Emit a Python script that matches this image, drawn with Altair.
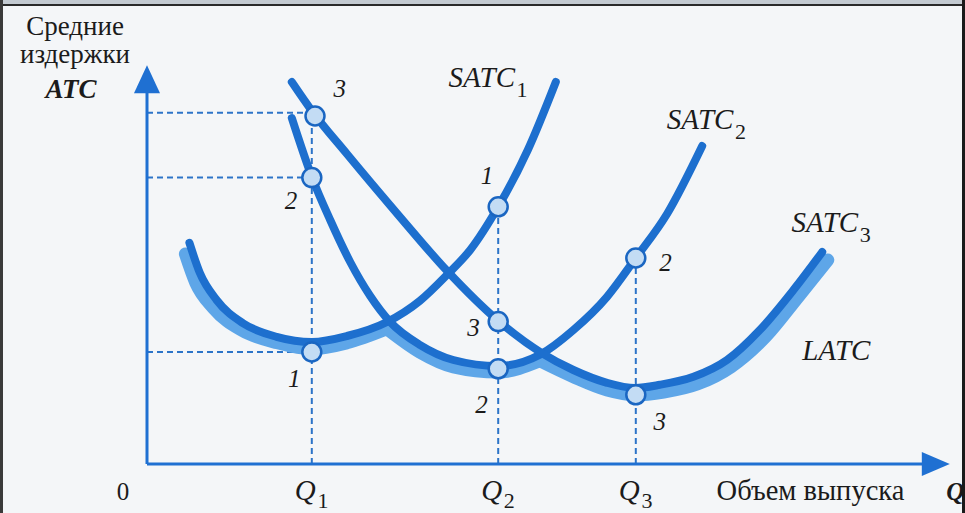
import altair as alt
import pandas as pd

# ---- data: output Q (x) and average cost ATC (y), arbitrary units ----
Q1, Q2, Q3 = 2.06, 4.39, 6.11

satc1_q = [0.53, 0.66, 0.87, 1.20, 1.62, 2.06, 2.50, 3.00, 3.41, 3.75, 4.04, 4.39, 4.76, 5.11]
satc1_c = [5.53, 4.78, 4.10, 3.52, 3.18, 3.05, 3.20, 3.55, 4.08, 4.73, 5.35, 6.43, 7.85, 9.55]

satc2_q = [1.81, 2.06, 2.29, 2.54, 2.79, 3.04, 3.41, 3.83, 4.39, 4.91, 5.33, 5.75, 6.11, 6.50, 6.94]
satc2_c = [8.65, 7.18, 6.10, 5.05, 4.20, 3.55, 2.98, 2.60, 2.45, 2.73, 3.35, 4.18, 5.15, 6.25, 7.95]

satc3_q = [1.81, 2.06, 2.50, 3.14, 3.75, 4.39, 4.93, 5.33, 5.75, 6.10, 6.41, 6.83, 7.25, 7.66, 8.08, 8.44]
satc3_c = [9.55, 8.83, 7.75, 6.23, 4.83, 3.58, 2.78, 2.35, 2.03, 1.90, 1.98, 2.18, 2.60, 3.35, 4.35, 5.30]

# long-run envelope, one piece under each short-run curve
latc_seg = [1] * 8 + [2] * 5 + [3] * 11
latc_q = [0.48, 0.61, 0.83, 1.18, 1.63, 2.06, 2.50, 3.00,
          3.00, 3.41, 3.83, 4.39, 4.91,
          4.91, 5.33, 5.75, 6.10, 6.46, 6.88, 7.30, 7.73, 8.14, 8.51, 8.51]
latc_c = [5.25, 4.53, 3.90, 3.35, 3.03, 2.88, 3.03, 3.38,
          3.38, 2.80, 2.43, 2.30, 2.58,
          2.58, 2.18, 1.85, 1.73, 1.80, 2.00, 2.43, 3.18, 4.18, 5.10, 5.10]

# marked points
pt_q = [2.10, Q1, Q1, Q2, Q2, Q2, Q3, Q3]
pt_c = [8.70, 7.16, 2.80, 6.43, 3.56, 2.38, 5.15, 1.73]
pt_label = ["3", "2", "1", "1", "3", "2", "2", "3"]
pt_label_q = [2.41, 1.80, 1.84, 4.25, 4.08, 4.18, 6.48, 6.41]
pt_label_c = [9.38, 6.58, 2.13, 7.20, 3.40, 1.48, 5.03, 1.05]

# dashed guides
guide_c_q1 = [8.78, 7.16, 2.80]
guide_top = [8.78, 6.43, 5.15]
guide_q = [Q1, Q2, Q3]

# curve names
curve_names = ["SATC", "SATC", "SATC", "LATC"]
curve_subs = ["1", "2", "3", ""]
curve_name_q = [4.60, 7.33, 8.89, 8.19]
curve_name_c = [9.43, 8.38, 5.80, 2.60]

DARK = "#1d6fce"
LIGHT = "#5ea6e8"
AXIS = "#1f70d2"
DASH = "#2c74c8"
PT_FILL = "#c3dcf4"
INK = "#1b1b1b"
SERIF = "Liberation Serif, Times New Roman, serif"

xs = alt.Scale(domain=[0, 10], nice=False, zero=False)
ys = alt.Scale(domain=[0, 10], nice=False, zero=False)


def enc(xf="q", yf="c"):
    return dict(x=alt.X(f"{xf}:Q", scale=xs, axis=None), y=alt.Y(f"{yf}:Q", scale=ys, axis=None))


def curve(q, c, color, width):
    df = pd.DataFrame({"q": q, "c": c})
    return alt.Chart(df).mark_line(
        color=color, strokeWidth=width, interpolate="monotone", strokeCap="round"
    ).encode(**enc())


latc = alt.Chart(pd.DataFrame({"q": latc_q, "c": latc_c, "seg": latc_seg})).mark_line(
    color=LIGHT, strokeWidth=13, interpolate="monotone", strokeCap="round"
).encode(**enc(), detail="seg:N")

# dashed guide lines
h_df = pd.DataFrame({"q": [0] * 3, "q2": [Q1] * 3, "c": guide_c_q1})
v_df = pd.DataFrame({"q": guide_q, "c": [0] * 3, "c2": guide_top})
h_rules = alt.Chart(h_df).mark_rule(color=DASH, strokeWidth=2, strokeDash=[6, 4]).encode(
    x=alt.X("q:Q", scale=xs, axis=None), x2="q2:Q", y=alt.Y("c:Q", scale=ys, axis=None))
v_rules = alt.Chart(v_df).mark_rule(color=DASH, strokeWidth=2, strokeDash=[6, 4]).encode(
    x=alt.X("q:Q", scale=xs, axis=None), y=alt.Y("c:Q", scale=ys, axis=None), y2="c2:Q")

# axes with arrow heads
axis_df = pd.DataFrame({"q": [0, 0], "c": [0, 0], "q2": [0, 9.7], "c2": [9.35, 0]})
axes = alt.Chart(axis_df).mark_rule(color=AXIS, strokeWidth=3).encode(
    x=alt.X("q:Q", scale=xs, axis=None), y=alt.Y("c:Q", scale=ys, axis=None), x2="q2:Q", y2="c2:Q")
arrow_up = alt.Chart(pd.DataFrame({"q": [0], "c": [9.62]})).mark_point(
    shape="M0,-1L-0.93,1L0.93,1Z", filled=True, color=AXIS, size=784, opacity=1).encode(**enc())
arrow_right = alt.Chart(pd.DataFrame({"q": [9.86], "c": [0]})).mark_point(
    shape="M1,0L-1,-0.85L-1,0.85Z", filled=True, color=AXIS, size=784, opacity=1).encode(**enc())

# points
pts = alt.Chart(pd.DataFrame({"q": pt_q, "c": pt_c})).mark_circle(
    fill=PT_FILL, stroke="#1a66c2", strokeWidth=2.5, size=360, opacity=1).encode(**enc())

pt_labels = alt.Chart(pd.DataFrame({"q": pt_label_q, "c": pt_label_c, "t": pt_label})).mark_text(
    font=SERIF, fontSize=25, fontStyle="italic", color=INK, align="center", baseline="middle"
).encode(**enc(), text="t:N")

# curve labels
names_df = pd.DataFrame({"q": curve_name_q, "c": curve_name_c, "t": curve_names})
names_main = alt.Chart(names_df.iloc[:3]).mark_text(
    font=SERIF, fontSize=29, fontStyle="italic", color=INK, align="right", baseline="alphabetic"
).encode(**enc(), text="t:N")
names_latc = alt.Chart(names_df.iloc[3:]).mark_text(
    font=SERIF, fontSize=29, fontStyle="italic", color=INK, align="left", baseline="alphabetic"
).encode(**enc(), text="t:N")
subs_df = pd.DataFrame({"q": [v + 0.02 for v in curve_name_q[:3]],
                        "c": [v - 0.26 for v in curve_name_c[:3]], "t": curve_subs[:3]})
names_sub = alt.Chart(subs_df).mark_text(
    font=SERIF, fontSize=22, color=INK, align="left", baseline="alphabetic"
).encode(**enc(), text="t:N")

# axis titles and ticks
ytitle = alt.Chart(pd.DataFrame({"q": [-0.9, -0.9], "c": [10.72, 10.03], "t": ["Средние", "издержки"]})).mark_text(
    font=SERIF, fontSize=27, color=INK, align="center", baseline="alphabetic"
).encode(**enc(), text="t:N")
ytitle_atc = alt.Chart(pd.DataFrame({"q": [-0.95], "c": [9.15], "t": ["ATC"]})).mark_text(
    font=SERIF, fontSize=27, fontStyle="italic", fontWeight="bold", color=INK, align="center",
    baseline="alphabetic").encode(**enc(), text="t:N")

zero = alt.Chart(pd.DataFrame({"q": [-0.3], "c": [-0.9], "t": ["0"]})).mark_text(
    font=SERIF, fontSize=25, color=INK, align="center", baseline="alphabetic").encode(**enc(), text="t:N")
q_main = alt.Chart(pd.DataFrame({"q": [v + 0.05 for v in guide_q], "c": [-0.9] * 3, "t": ["Q"] * 3})).mark_text(
    font=SERIF, fontSize=29, fontStyle="italic", color=INK, align="right", baseline="alphabetic"
).encode(**enc(), text="t:N")
q_sub = alt.Chart(pd.DataFrame({"q": [v + 0.07 for v in guide_q], "c": [-1.1] * 3, "t": ["1", "2", "3"]})).mark_text(
    font=SERIF, fontSize=22, color=INK, align="left", baseline="alphabetic"
).encode(**enc(), text="t:N")
xtitle = alt.Chart(pd.DataFrame({"q": [7.12], "c": [-0.9], "t": ["Объем выпуска"]})).mark_text(
    font=SERIF, fontSize=28.5, color=INK, align="left", baseline="alphabetic").encode(**enc(), text="t:N")
xtitle_q = alt.Chart(pd.DataFrame({"q": [9.99], "c": [-0.9], "t": ["Q"]})).mark_text(
    font=SERIF, fontSize=25, fontStyle="italic", fontWeight="bold", color=INK, align="left",
    baseline="alphabetic").encode(**enc(), text="t:N")

# page frame
frame_top = alt.Chart(pd.DataFrame({"q": [0]})).mark_rect(color="#c3cad1").encode(
    x=alt.value(-147), x2=alt.value(818), y=alt.value(-64), y2=alt.value(-60))
frame_line = alt.Chart(pd.DataFrame({"q": [0]})).mark_rule(color="#2a2a2a", strokeWidth=2).encode(
    x=alt.value(-147), x2=alt.value(818), y=alt.value(-59), y2=alt.value(-59))
frame_left = alt.Chart(pd.DataFrame({"q": [0]})).mark_rule(color="#3a3a3a", strokeWidth=3).encode(
    x=alt.value(-145.5), y=alt.value(-64), y2=alt.value(449))
frame_right = alt.Chart(pd.DataFrame({"q": [0]})).mark_rule(color="#1a1a1a", strokeWidth=3).encode(
    x=alt.value(816.5), y=alt.value(-64), y2=alt.value(449))

chart = alt.layer(
    h_rules, v_rules, axes, arrow_up, arrow_right,
    latc,
    curve(satc1_q, satc1_c, DARK, 8),
    curve(satc2_q, satc2_c, DARK, 8),
    curve(satc3_q, satc3_c, DARK, 8),
    pts, pt_labels, names_main, names_latc, names_sub,
    ytitle, ytitle_atc, zero, q_main, q_sub, xtitle, xtitle_q,
    frame_top, frame_line, frame_left, frame_right,
).properties(
    width=800, height=400, autosize="none",
    padding={"left": 147, "top": 64, "right": 18, "bottom": 49},
    background="#f4f6f8",
).configure_view(stroke=None)

chart.save("out.html", embed_options={"renderer": "svg", "actions": False})
